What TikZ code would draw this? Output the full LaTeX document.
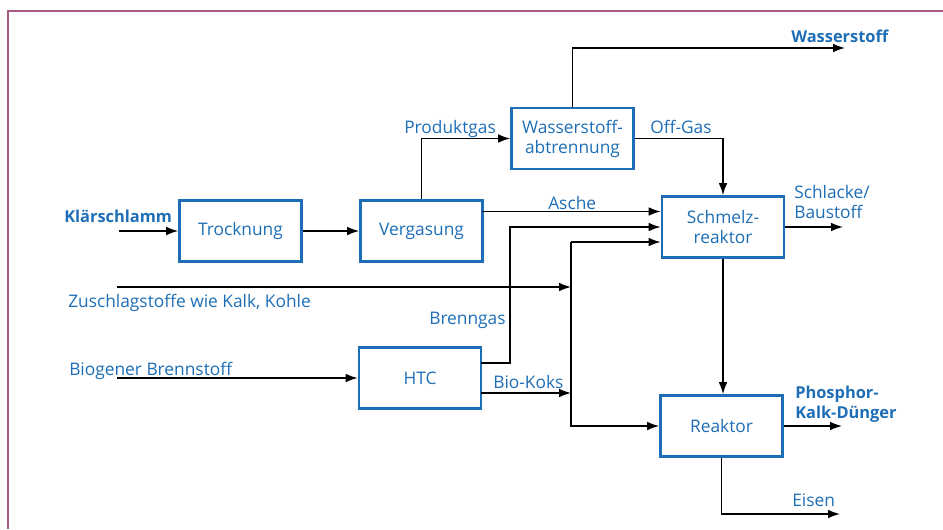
\documentclass[tikz,border=0pt]{standalone}
\usepackage{fontspec}
\setmainfont{Open Sans}
\usetikzlibrary{arrows.meta}
\definecolor{fhblue}{HTML}{1D6EB6}
\definecolor{frame}{HTML}{A85B82}
\tikzset{
  proc/.style={draw=fhblue, line width=2pt, minimum width=91.5pt, minimum height=45.75pt, inner sep=0pt, align=center, text=fhblue, font=\fontsize{13}{15}\selectfont},
  arr/.style={-{Latex[length=9pt,width=6.5pt]}, line width=1pt, black},
  lab/.style={text=fhblue, font=\fontsize{13}{15}\selectfont, inner sep=0pt, anchor=base west, align=left},
  blab/.style={lab, font=\fontsize{12.3}{15}\selectfont\bfseries}
}
\begin{document}
\begin{tikzpicture}[x=0.75pt,y=-0.75pt]
\useasboundingbox (0,0) rectangle (943,529);
\draw[frame, line width=1pt] (8,529) -- (8,11) -- (943,11);

% process boxes
\node[proc] (troc) at (240.5,231) {Trocknung};
\node[proc] (verg) at (421.5,231) {Vergasung};
\node[proc] (wass) at (572.5,138.5) {Wasserstoff-\\abtrennung};
\node[proc] (schm) at (723,227) {Schmelz-\\reaktor};
\node[proc] (htc) at (420,378) {HTC};
\node[proc] (reak) at (721.5,426) {Reaktor};

% coordinates
\coordinate (klin) at (119,231);
\coordinate (h2end) at (845,48);
\coordinate (ascheS) at (482.3,211.5);
\coordinate (bgS) at (480.7,363);
\coordinate (bgK) at (510,227);
\coordinate (kJ) at (571,242);
\coordinate (zuS) at (117,287);
\coordinate (zuE) at (571,287);
\coordinate (bioS) at (117,378);
\coordinate (bkS) at (480.7,393);
\coordinate (bkE) at (571,393);
\coordinate (slE) at (843,227);
\coordinate (phE) at (842,426);
\coordinate (eiE) at (840,514);

% connectors
\draw[arr] (klin) -- (troc.west);
\draw[arr] (troc.east) -- (verg.west);
\draw[arr] (verg.north) |- (wass.west);
\draw[arr] (wass.north) |- (h2end);
\draw[arr] (wass.east) -| (schm.north);
\draw[arr] (ascheS) -- (ascheS -| schm.west);
\draw[arr] (bgS) -| (bgK) -- (schm.west);
\draw[arr] (kJ) -- (kJ -| schm.west);
\draw[arr] (kJ) |- (reak.west);
\draw[arr] (zuS) -- (zuE);
\draw[arr] (bioS) -- (htc.west);
\draw[arr] (bkS) -- (bkE);
\draw[arr] (schm.south) -- (schm.south |- reak.north);
\draw[arr] (schm.east) -- (slE);
\draw[arr] (reak.east) -- (phE);
\draw[arr] (reak.south) |- (eiE);

% labels
\node[blab] (l1) at (64,222.7) {Klärschlamm};
\node[lab] (l2) at (404,133) {Produktgas};
\node[blab] (l3) at (791,42.7) {Wasserstoff};
\node[lab] (l4) at (650,133) {Off-Gas};
\node[lab] (l5) at (548,209) {Asche};
\node[lab] (l6) at (794,218.7) {Schlacke/\\Baustoff};
\node[lab] (l7) at (68,307.7) {Zuschlagstoffe wie Kalk, Kohle};
\node[lab] (l8) at (69,375) {Biogener Brennstoff};
\node[lab] (l9) at (429,324.3) {Brenngas};
\node[lab] (l10) at (493,388.3) {Bio-Koks};
\node[blab] (l11) at (795,418.3) {Phosphor-\\Kalk-Dünger};
\node[lab] (l12) at (792,506) {Eisen};
\end{tikzpicture}
\end{document}
